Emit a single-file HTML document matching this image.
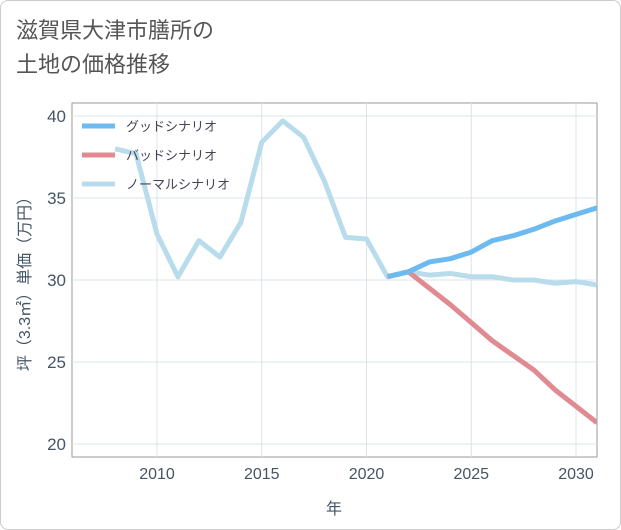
<!DOCTYPE html>
<html><head><meta charset="utf-8"><style>
body{margin:0;background:#fff;font-family:"Liberation Sans","Noto Sans CJK JP",sans-serif;}
#card{position:absolute;left:0;top:0;width:619px;height:528px;border:1px solid #ccc;border-radius:8px;background:#fff;}
#title{position:absolute;left:16px;top:14px;font-size:22px;line-height:34px;color:#555;}
</style></head><body>
<div id="card"></div>
<div id="title">滋賀県大津市膳所の<br>土地の価格推移</div>
<svg id="chart" width="621" height="530" style="position:absolute;left:0;top:0"></svg>
<script>
const years=[2008,2009,2010,2011,2012,2013,2014,2015,2016,2017,2018,2019,2020,2021,2022,2023,2024,2025,2026,2027,2028,2029,2030,2031];
const normal=[38,37.7,32.8,30.2,32.4,31.4,33.5,38.4,39.7,38.7,36,32.6,32.5,30.2,30.5,30.3,30.4,30.2,30.2,30.0,30.0,29.8,29.9,29.7];
const goodYears=[2021,2022,2023,2024,2025,2026,2027,2028,2029,2030,2031];
const good=[30.2,30.5,31.1,31.3,31.7,32.4,32.7,33.1,33.6,34.0,34.4];
const badYears=[2021,2022,2023,2024,2025,2026,2027,2028,2029,2030,2031];
const bad=[30.2,30.5,29.5,28.5,27.4,26.3,25.4,24.5,23.3,22.3,21.3];
const xTicks=[2010,2015,2020,2025,2030];
const yTicks=[20,25,30,35,40];
const NS="http://www.w3.org/2000/svg";
const svg=document.getElementById('chart');
const L=72,R=597,T=103,B=457;
const x=v=>157+(v-2010)*(576-157)/20;
const y=v=>444-(v-20)*(444-116)/20;
function mk(tag,a,p){const e=document.createElementNS(NS,tag);for(const k in a)e.setAttribute(k,a[k]);(p||svg).appendChild(e);return e;}
const bg=mk('rect',{x:L,y:T,width:R-L,height:B-T,fill:'#fff',stroke:'#999'});


xTicks.forEach(t=>{
 const g=mk('line',{x1:x(t),x2:x(t),y1:T,y2:B,stroke:'#dbe4ea'});
 
 
 const tx=mk('text',{x:x(t),y:479,'text-anchor':'middle','font-size':16,fill:'#456'});tx.textContent=t;
 
 
});
yTicks.forEach(t=>{
 const g=mk('line',{x1:L,x2:R,y1:y(t),y2:y(t),stroke:'#dbe4ea'});
 
 
 const tx=mk('text',{x:66,y:y(t)+6,'text-anchor':'end','font-size':17,fill:'#456'});tx.textContent=t;
 
 
});
const clip=mk('clipPath',{id:'c'});mk('rect',{x:L,y:T,width:R-L,height:B-T},clip);
function line(xs,vs,color,name){
 const p=mk('polyline',{points:xs.map((a,i)=>x(a)+','+y(vs[i])).join(' '),fill:'none',stroke:color,'stroke-width':5,'stroke-linejoin':'round','clip-path':'url(#c)'});
 
 
}
line(years,normal,'#b8dcec','normal-scenario-line');
line(badYears,bad,'#e08a92','bad-scenario-line');
line(goodYears,good,'#6cbaf0','good-scenario-line');
[['グッドシナリオ','#6cbaf0',126],['バッドシナリオ','#e08a92',155],['ノーマルシナリオ','#b8dcec',184]].forEach(([n,c,yy])=>{
 const l=mk('line',{x1:82,x2:115,y1:yy,y2:yy,stroke:c,'stroke-width':5});
 
 
 const t=mk('text',{x:126,y:yy+5,'font-size':13,fill:'#445'});t.textContent=n;
 
 
});
const xt=mk('text',{x:334,y:514,'text-anchor':'middle','font-size':16,fill:'#456'});xt.textContent='年';


const yt=mk('text',{x:30,y:280,'text-anchor':'middle','font-size':16,fill:'#456',transform:'rotate(-90 30 280)'});yt.textContent='坪（3.3㎡）単価（万円）';


</script>
</body></html>
